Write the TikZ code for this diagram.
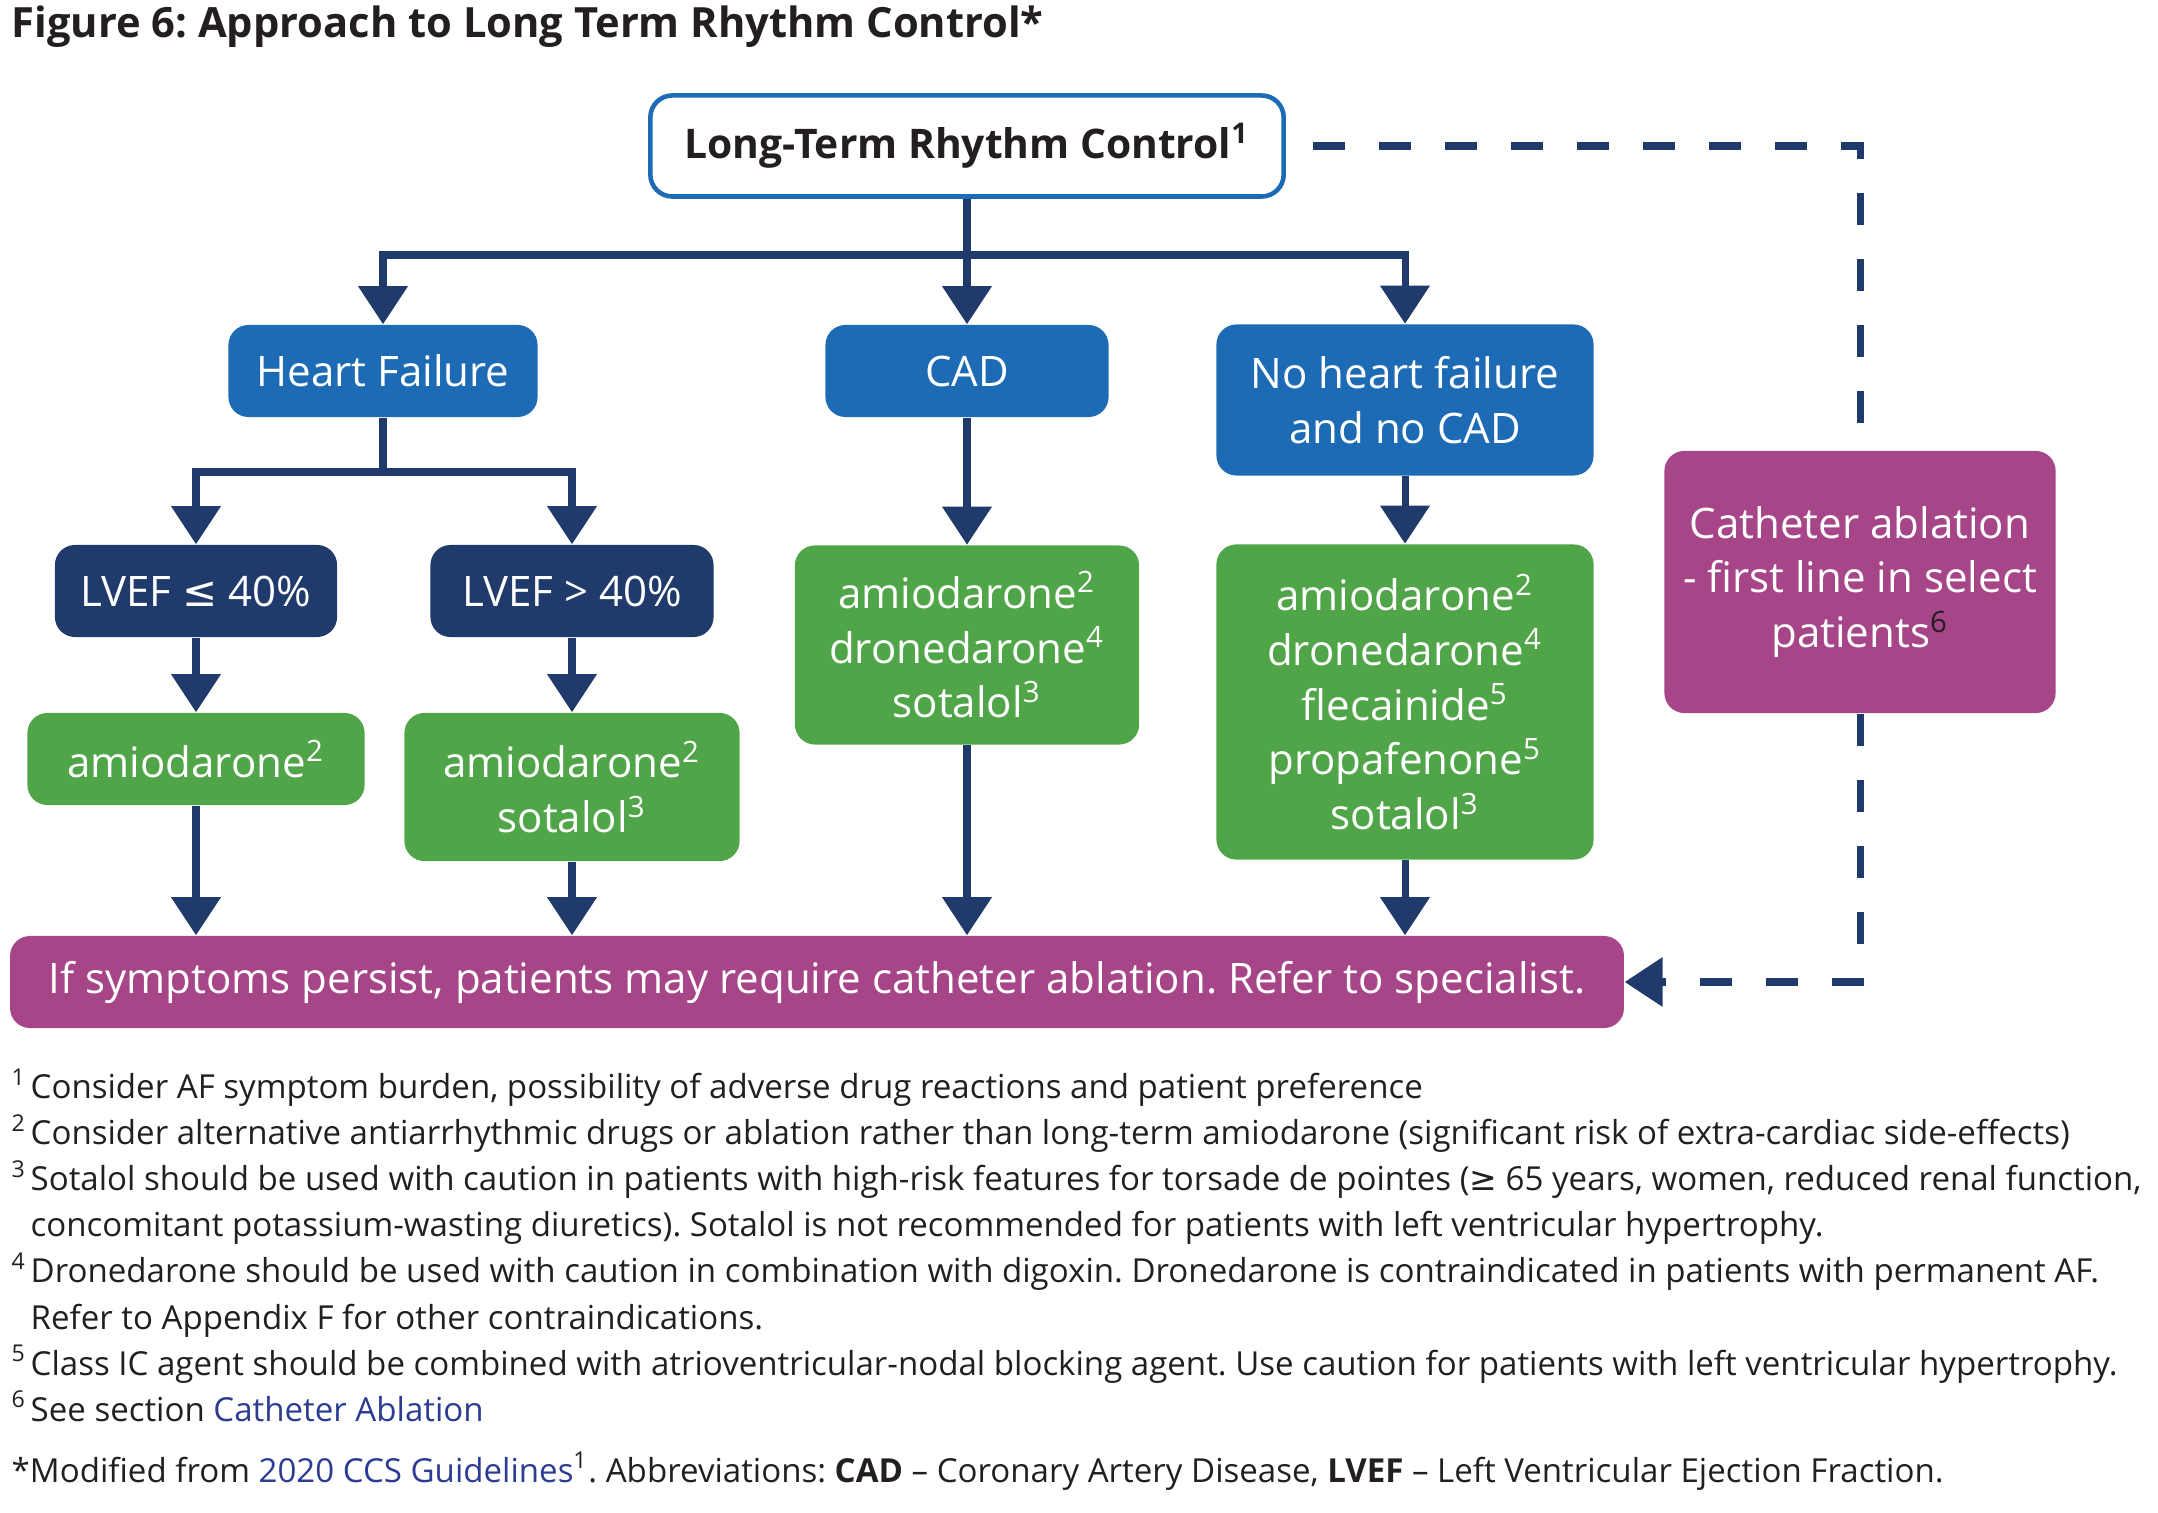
\documentclass[tikz,border=0pt]{standalone}
\usepackage{fontspec}
\setmainfont{Open Sans}
\newfontfamily\symfont{DejaVu Sans}
\usetikzlibrary{arrows.meta}
\frenchspacing

\definecolor{inkblack}{RGB}{35,31,32}
\definecolor{catblue}{RGB}{30,107,181}
\definecolor{lvnavy}{RGB}{31,58,107}
\definecolor{druggreen}{RGB}{80,165,72}
\definecolor{ablmagenta}{RGB}{166,69,135}
\definecolor{linkblue}{RGB}{43,60,147}

\newcommand\boxfont{\fontsize{11.95}{15.6}\selectfont}
\newcommand\fnmark[1]{\makebox[0.19cm][l]{\textsuperscript{#1}}}

\begin{document}
\begin{tikzpicture}[x=0.01cm, y=-0.01cm,
    box/.style={rounded corners=0.2cm, align=center, text=white, font=\boxfont, inner sep=0pt},
    catbox/.style={box, fill=catblue},
    lvbox/.style={box, fill=lvnavy},
    drugbox/.style={box, fill=druggreen},
    ablbox/.style={box, fill=ablmagenta},
    link/.style={draw=lvnavy, line width=2pt},
    flow/.style={link, -{Triangle[width=0.48cm,length=0.38cm]}},
    dashlink/.style={link, dash pattern=on 0.32cm off 0.34cm}]
  \useasboundingbox (0,0) rectangle (2158,1513);

  % title
  \node[anchor=base west, inner sep=0pt, text=inkblack,
        font=\bfseries\fontsize{11.85}{14}\selectfont] (title) at (11,38)
        {Figure 6: Approach to Long Term Rhythm Control*};

  % top box
  \node[rounded corners=0.22cm, draw=catblue, line width=1.3pt, fill=white,
        minimum width=6.33cm, minimum height=1.01cm, text=inkblack,
        font=\bfseries\fontsize{11.6}{14}\selectfont] (ltrc) at (967,146)
        {Long-Term Rhythm Control\textsuperscript{1}};

  % conditions
  \node[catbox, minimum width=3.09cm, minimum height=0.92cm] (hf) at (383,371) {Heart Failure};
  \node[catbox, minimum width=2.83cm, minimum height=0.92cm] (cad) at (967,371) {CAD};
  \node[catbox, minimum width=3.77cm, minimum height=1.51cm] (nohf) at (1405,400) {No heart failure\\and no CAD};

  % ejection fraction
  \node[lvbox, minimum width=2.82cm, minimum height=0.92cm] (lvlow) at (196,591) {LVEF {\symfont ≤} 40\%};
  \node[lvbox, minimum width=2.83cm, minimum height=0.92cm] (lvhigh) at (572,591) {LVEF > 40\%};

  % drugs
  \node[drugbox, minimum width=3.37cm, minimum height=0.92cm] (druglow) at (196,759)
        {amiodarone\textsuperscript{2}};
  \node[drugbox, minimum width=3.35cm, minimum height=1.48cm] (drughigh) at (572,787)
        {amiodarone\textsuperscript{2}\\sotalol\textsuperscript{3}};
  \node[drugbox, minimum width=3.44cm, minimum height=1.99cm] (drugcad) at (967,645)
        {amiodarone\textsuperscript{2}\\dronedarone\textsuperscript{4}\\sotalol\textsuperscript{3}};
  \node[drugbox, minimum width=3.77cm, minimum height=3.15cm] (drugnohf) at (1405,702)
        {amiodarone\textsuperscript{2}\\dronedarone\textsuperscript{4}\\flecainide\textsuperscript{5}\\propafenone\textsuperscript{5}\\sotalol\textsuperscript{3}};

  % ablation
  \node[ablbox, minimum width=3.91cm, minimum height=2.62cm] (cath) at (1860,582)
        {Catheter ablation\\- first line in select\\patients\textcolor{inkblack}{\textsuperscript{6}}};
  \node[ablbox, minimum width=16.13cm, minimum height=0.92cm] (persist) at (817,982)
        {If symptoms persist, patients may require catheter ablation. Refer to specialist.};

  % connectors
  \draw[link] (ltrc.south) -- (967,255) coordinate (split);
  \draw[flow] (split) -| (hf.north);
  \draw[flow] (split) -- (cad.north);
  \draw[flow] (split) -| (nohf.north);
  \draw[link] (hf.south) -- (383,472) coordinate (hfsplit);
  \draw[flow] (hfsplit) -| (lvlow.north);
  \draw[flow] (hfsplit) -| (lvhigh.north);
  \draw[flow] (lvlow) -- (druglow);
  \draw[flow] (lvhigh) -- (drughigh);
  \draw[flow] (cad) -- (drugcad);
  \draw[flow] (nohf) -- (drugnohf);
  \draw[flow] (druglow.south) -- (druglow.south |- persist.north);
  \draw[flow] (drughigh.south) -- (drughigh.south |- persist.north);
  \draw[flow] (drugcad.south) -- (drugcad.south |- persist.north);
  \draw[flow] (drugnohf.south) -- (drugnohf.south |- persist.north);
  \draw[dashlink] ([xshift=0.27cm]ltrc.east) -| (cath.north);
  \draw[dashlink, -{Triangle[width=0.48cm,length=0.38cm]}] (cath.south) |- (persist.east);

  % footnotes
  \node[anchor=north west, inner sep=0pt, align=left, text=inkblack,
        font=\fontsize{9.4}{13.1}\selectfont] (notes) at (11,1068)
    {\fnmark{1}Consider AF symptom burden, possibility of adverse drug reactions and patient preference\\
     \fnmark{2}Consider alternative antiarrhythmic drugs or ablation rather than long-term amiodarone (significant risk of extra-cardiac side-effects)\\
     \fnmark{3}Sotalol should be used with caution in patients with high-risk features for torsade de pointes ({\symfont ≥} 65 years, women, reduced renal function,\\
     \hspace*{0.19cm}concomitant potassium-wasting diuretics). Sotalol is not recommended for patients with left ventricular hypertrophy.\\
     \fnmark{4}Dronedarone should be used with caution in combination with digoxin. Dronedarone is contraindicated in patients with permanent AF.\\
     \hspace*{0.19cm}Refer to Appendix F for other contraindications.\\
     \fnmark{5}Class IC agent should be combined with atrioventricular-nodal blocking agent. Use caution for patients with left ventricular hypertrophy.\\
     \fnmark{6}See section \textcolor{linkblue}{Catheter Ablation}};
  \node[anchor=base west, inner sep=0pt, text=inkblack,
        font=\fontsize{9.4}{13.1}\selectfont] (source) at (11,1482)
    {*Modified from \textcolor{linkblue}{2020 CCS Guidelines}\textsuperscript{1}. Abbreviations: \textbf{CAD} – Coronary Artery Disease, \textbf{LVEF} – Left Ventricular Ejection Fraction.};
\end{tikzpicture}
\end{document}
